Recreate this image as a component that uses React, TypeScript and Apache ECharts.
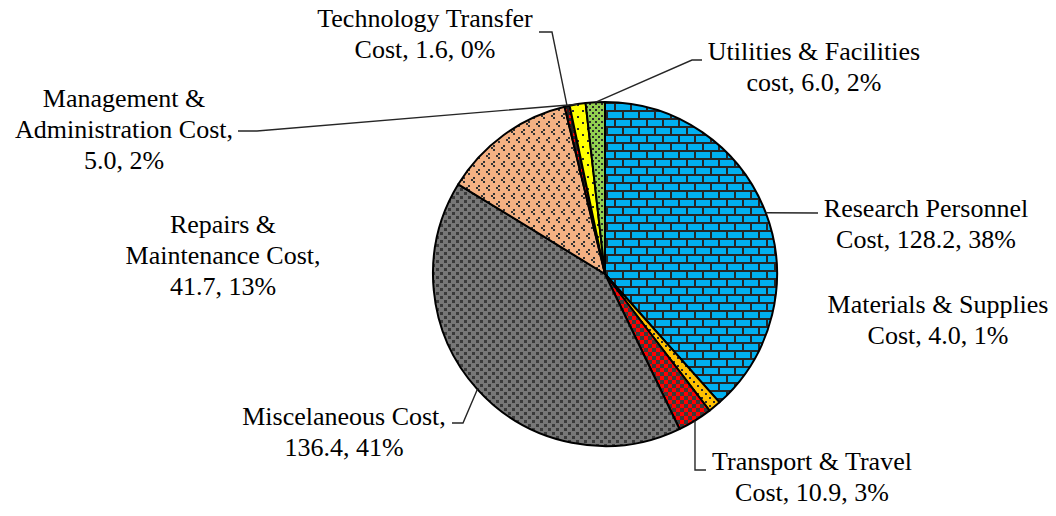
import React, { useEffect, useRef } from "react";
import * as echarts from "echarts";

// ---- data ----
const categories = [
  "Research Personnel\nCost",
  "Materials & Supplies\nCost",
  "Transport & Travel\nCost",
  "Miscelaneous Cost",
  "Repairs &\nMaintenance Cost",
  "Technology Transfer\nCost",
  "Management &\nAdministration Cost",
  "Utilities & Facilities\ncost",
];
const values = [128.2, 4.0, 10.9, 136.4, 41.7, 1.6, 5.0, 6.0];
const percentLabels = ["38%", "1%", "3%", "41%", "13%", "0%", "2%", "2%"];
const valueOnNewLine = [false, false, false, true, true, false, true, false];

// ---- layout (annotation positions) ----
const CX = 605;
const CY = 274;
const R = 172;
const LINE_H = 31;
const labelPos: number[][] = [
  [926, 224],
  [938, 320],
  [812, 477],
  [344, 432],
  [223, 255],
  [425, 34],
  [124, 129],
  [814, 67],
];
// NaN means "use the edge point's coordinate"
const lineElbows: (number[][] | null)[] = [
  [[818, 213]],
  null,
  [[NaN, 470], [706, 470]],
  [[463, 423], [452, 423]],
  null,
  [[552, 32], [539, 32]],
  [[257, 131], [238, 131]],
  [[692, 60], [702, 60]],
];

const FONT = "26px Liberation Serif";

function makeTile(w: number, h: number, bg: string, fg: string, rects: number[][]) {
  const c = document.createElement("canvas");
  c.width = w;
  c.height = h;
  const ctx = c.getContext("2d")!;
  ctx.fillStyle = bg;
  ctx.fillRect(0, 0, w, h);
  ctx.fillStyle = fg;
  rects.forEach((r) => ctx.fillRect(r[0], r[1], r[2], r[3]));
  return { image: c.toDataURL(), repeat: "repeat", imageWidth: w, imageHeight: h };
}

function edgePoint(i: number) {
  const total = values.reduce((a, b) => a + b, 0);
  let before = 0;
  for (let k = 0; k < i; k++) before += values[k];
  const mid = ((before + values[i] / 2) / total) * Math.PI * 2;
  return [CX + R * Math.sin(mid), CY - R * Math.cos(mid)];
}

function labelText(i: number) {
  return (
    categories[i] +
    "," +
    (valueOnNewLine[i] ? "\n" : " ") +
    values[i].toFixed(1) +
    ", " +
    percentLabels[i]
  );
}

export default function App() {
  const ref = useRef<HTMLDivElement>(null);
  useEffect(() => {
    if (!ref.current) return;
    const chart = echarts.init(ref.current, null, { renderer: "svg" });
    const dark = "#2b2b2b";
    const patterns = [
      makeTile(16, 16, "#262626", "#00B0F0", [
        [0, 0, 14, 6],
        [-8, 8, 14, 6],
        [8, 8, 14, 6],
      ]),
      makeTile(8, 8, "#FFC000", dark, [
        [1, 1, 2, 2],
        [5, 5, 2, 2],
      ]),
      makeTile(8, 8, "#FF0000", "#3a3a3a", [
        [0, 0, 4, 4],
        [4, 4, 4, 4],
      ]),
      makeTile(8, 8, "#777777", "#3a3a3a", [
        [0, 0, 3, 3],
        [4, 4, 3, 3],
      ]),
      makeTile(10, 16, "#F4B183", "#333333", [
        [3, 1, 2, 2],
        [1, 3, 2, 2],
        [3, 5, 2, 2],
        [8, 9, 2, 2],
        [6, 11, 2, 2],
        [8, 13, 2, 2],
      ]),
      makeTile(4, 6, "#222222", "#FF0000", [[1, 1, 2, 3]]),
      makeTile(10, 12, "#FFFF00", dark, [
        [2, 2, 2, 2],
        [7, 8, 2, 2],
      ]),
      makeTile(6, 6, "#92D050", dark, [
        [1, 1, 2, 2],
        [4, 4, 2, 2],
      ]),
    ];

    const data = values.map((v, i) => ({
      name: categories[i].replace(/\n/g, " "),
      value: v,
      itemStyle: { color: patterns[i] },
    }));

    const graphics: any[] = [];
    values.forEach((_, i) => {
      const el = lineElbows[i];
      if (el) {
        const e = edgePoint(i);
        const pts = [e, ...el.map((p) => [isNaN(p[0]) ? e[0] : p[0], isNaN(p[1]) ? e[1] : p[1]])];
        graphics.push({
          type: "polyline",
          z: 10,
          silent: true,
          shape: { points: pts },
          style: { stroke: "#262626", lineWidth: 1.4, fill: null },
        });
      }
      const lines = labelText(i).split("\n");
      lines.forEach((ln, k) => {
        graphics.push({
          type: "text",
          z: 10,
          silent: true,
          x: labelPos[i][0],
          y: labelPos[i][1] + (k - (lines.length - 1) / 2) * LINE_H,
          style: {
            text: ln,
            font: FONT,
            fill: "#000000",
            align: "center",
            verticalAlign: "middle",
          },
        });
      });
    });

    chart.setOption({
      animation: false,
      backgroundColor: "#ffffff",
      series: [
        {
          type: "pie",
          center: [CX, CY],
          radius: R,
          startAngle: 90,
          clockwise: true,
          silent: true,
          data,
          itemStyle: { borderColor: "#000000", borderWidth: 2 },
          label: { show: false },
          labelLine: { show: false },
        },
      ],
      graphic: graphics,
    });
    return () => chart.dispose();
  }, []);
  return (
    <div
      ref={ref}
      style={{ position: "absolute", left: 0, top: 0, width: 1056, height: 516, background: "#fff" }}
    />
  );
}
